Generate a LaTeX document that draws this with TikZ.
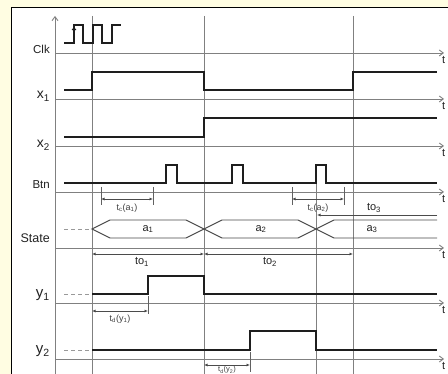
\documentclass[tikz,border=0pt]{standalone}
\usepackage{fontspec}
\setmainfont{Liberation Sans}
\usetikzlibrary{arrows.meta}
\definecolor{bgy}{HTML}{FFFDE2}
\definecolor{axg}{HTML}{808080}
\definecolor{sigc}{HTML}{1E1E1E}
\definecolor{txt}{HTML}{222222}
\begin{document}
\begin{tikzpicture}[x=1pt,y=-1pt,
  axisline/.style={draw=axg, line width=0.9pt, -{Straight Barb[length=4pt,width=6pt]}},
  gridline/.style={draw=axg, line width=0.7pt},
  sigline/.style={draw=sigc, line width=1.5pt},
  busline/.style={draw=sigc!80, line width=0.9pt},
  dashline/.style={draw=axg!80, line width=0.9pt, dash pattern=on 4pt off 3pt},
  tickline/.style={draw=sigc!70, line width=0.7pt},
  dimarrow/.style={draw=sigc!80, line width=0.7pt, {Latex[length=3.5pt,width=3pt]}-{Latex[length=3.5pt,width=3pt]}},
  onearrow/.style={draw=sigc!80, line width=0.7pt, -{Latex[length=3.5pt,width=3pt]}},
  sidelabel/.style={anchor=base east, inner sep=0pt, text=txt},
  tlabel/.style={anchor=north west, inner sep=0pt, font=\fontsize{11}{11}\selectfont, text=txt},
  small/.style={inner sep=0pt, font=\fontsize{9}{9}\selectfont, text=sigc!85},
  mid/.style={inner sep=0pt, font=\fontsize{11}{11}\selectfont, text=txt}
]
\useasboundingbox (0,0) rectangle (448,374);
\clip (0,0) rectangle (448,374);
\fill[bgy] (0,0) rectangle (448,374);
\filldraw[fill=white, draw=black, line width=0.9pt] (11,7) rectangle (470,400);

% vertical axis and grid
\coordinate (vtop) at (55,16); \coordinate (vbot) at (55,380);
\draw[axisline] (vbot) -- (vtop);
\foreach \gx in {92,204,353} { \draw[gridline] (\gx,16) -- (\gx,380); }
\draw[gridline] (316,165) -- (316,380);

% time axes
\foreach \ay/\nm in {53/clk,99/xa,146/xb,192/btn,248/st,303/ya,359/yb} {
  \coordinate (\nm s) at (55,\ay);
  \coordinate (\nm e) at (444,\ay);
  \draw[axisline] (\nm s) -- (\nm e);
  \node[tlabel] (t\nm) at (442,{\ay+3}) {t};
}

% side labels
\node[sidelabel, font=\fontsize{11.5}{11.5}\selectfont] (lclk) at (50,54) {Clk};
\node[sidelabel, font=\fontsize{14}{14}\selectfont] (lxa) at (50,99) {x\textsubscript{1}};
\node[sidelabel, font=\fontsize{14}{14}\selectfont] (lxb) at (50,148) {x\textsubscript{2}};
\node[sidelabel, font=\fontsize{11.5}{11.5}\selectfont] (lbtn) at (50,189) {Btn};
\node[sidelabel, font=\fontsize{12.5}{12.5}\selectfont] (lst) at (50,243) {State};
\node[sidelabel, font=\fontsize{15}{15}\selectfont] (lya) at (50,298) {y\textsubscript{1}};
\node[sidelabel, font=\fontsize{15}{15}\selectfont] (lyb) at (50,354) {y\textsubscript{2}};

% Clk glyph
\draw[sigline, line width=1.2pt] (64,43) -- (74,43) -- (74,25) -- (83,25) -- (83,43) -- (93,43) -- (93,25) -- (102,25) -- (102,43) -- (112,43) -- (112,25) -- (121,25);
\draw[draw=sigc, line width=0.8pt, -{Straight Barb[length=2.5pt,width=4pt]}] (74,38) -- (74,27);

% x1
\draw[sigline] (64,90) -- (92,90) -- (92,72) -- (204,72) -- (204,90) -- (353,90) -- (353,72) -- (437,72);
% x2
\draw[sigline] (64,137) -- (204,137) -- (204,118) -- (437,118);
% Btn
\draw[sigline] (64,183) -- (166,183) -- (166,165) -- (177,165) -- (177,183) -- (232,183) -- (232,165) -- (243,165) -- (243,183) -- (316,183) -- (316,165) -- (326,165) -- (326,183) -- (437,183);

% tc(a1)
\coordinate (ca1) at (101,199); \coordinate (ca2) at (153,199);
\draw[tickline] (101,187) -- (101,205); \draw[tickline] (153,187) -- (153,205);
\draw[dimarrow] (ca1) -- (ca2);
\node[small] (tca) at (127,208) {t\textsubscript{c}(a\textsubscript{1})};
% tc(a2)
\coordinate (cb1) at (292,199); \coordinate (cb2) at (344,199);
\draw[tickline] (292,187) -- (292,205); \draw[tickline] (344,187) -- (344,205);
\draw[dimarrow] (cb1) -- (cb2);
\node[small] (tcb) at (318,208) {t\textsubscript{c}(a\textsubscript{2})};

% to3
\coordinate (o3s) at (437,215); \coordinate (o3e) at (317,215);
\draw[onearrow] (o3s) -- (o3e);
\node[mid] (to3) at (374,208) {to\textsubscript{3}};

% State bus
\draw[dashline] (64,229) -- (92,229);
\draw[busline] (92,229) -- (110,220) -- (186,220) -- (204,229) -- (186,238) -- (110,238) -- cycle;
\draw[busline] (204,229) -- (222,220) -- (298,220) -- (316,229) -- (298,238) -- (222,238) -- cycle;
\draw[busline] (437,220) -- (334,220) -- (316,229) -- (334,238) -- (437,238);
\node[mid] (sa1) at (148,229) {a\textsubscript{1}};
\node[mid] (sa2) at (261,229) {a\textsubscript{2}};
\node[mid] (sa3) at (372,229) {a\textsubscript{3}};

% to1, to2
\coordinate (o1s) at (92,254); \coordinate (o1e) at (204,254);
\coordinate (o2s) at (204,254); \coordinate (o2e) at (353,254);
\draw[dimarrow] (o1s) -- (o1e);
\draw[dimarrow] (o2s) -- (o2e);
\node[mid] (to1) at (142,262) {to\textsubscript{1}};
\node[mid] (to2) at (270,262) {to\textsubscript{2}};

% y1
\draw[dashline] (64,294) -- (92,294);
\draw[sigline] (92,294) -- (148,294) -- (148,276) -- (204,276) -- (204,294) -- (437,294);
\draw[tickline] (148,296) -- (148,314);
\coordinate (d1s) at (92,311); \coordinate (d1e) at (148,311);
\draw[dimarrow] (d1s) -- (d1e);
\node[small] (tdy1) at (120,319) {t\textsubscript{d}(y\textsubscript{1})};

% y2
\draw[dashline] (64,350) -- (92,350);
\draw[sigline] (92,350) -- (250,350) -- (250,331) -- (316,331) -- (316,350) -- (437,350);
\draw[tickline] (250,352) -- (250,372);
\coordinate (d2s) at (204,365); \coordinate (d2e) at (250,365);
\draw[dimarrow] (d2s) -- (d2e);
\node[small, font=\fontsize{7.5}{7.5}\selectfont] (tdy2) at (227,370) {t\textsubscript{d}(y\textsubscript{2})};
\end{tikzpicture}
\end{document}
